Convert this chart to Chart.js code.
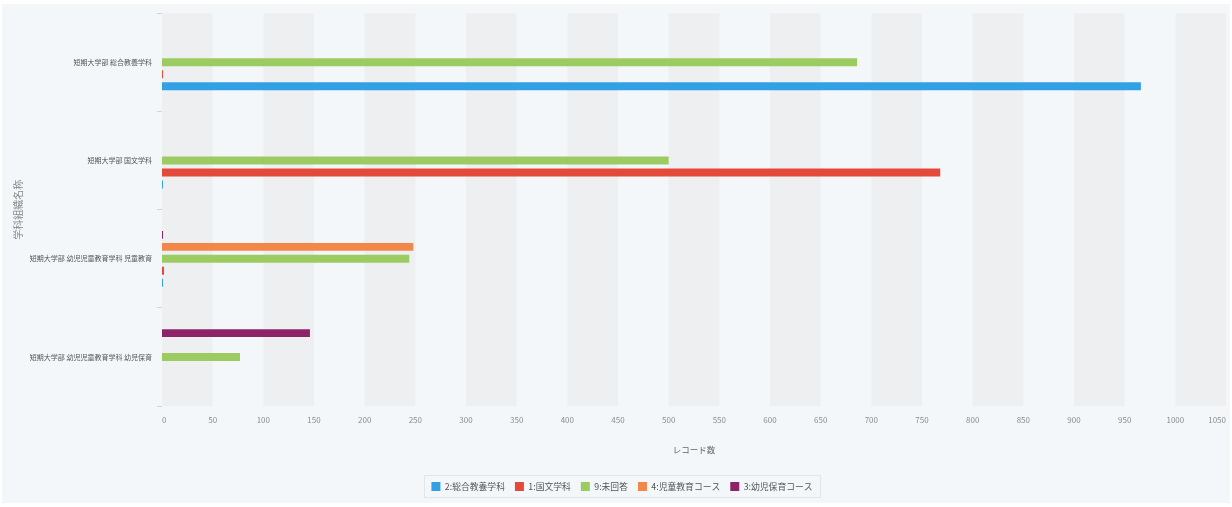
<!DOCTYPE html>
<html lang="ja">
<head>
<meta charset="utf-8">
<title>学科組織名称別 レコード数</title>
<script src="https://cdn.jsdelivr.net/npm/chart.js@4/dist/chart.umd.min.js"></script>
<style>
  html, body { margin: 0; padding: 0; background: #ffffff; }
  #wrap { position: relative; width: 1232px; height: 507px; background: #ffffff; overflow: hidden; }
  #panel { position: absolute; left: 2px; top: 4px; width: 1228px; height: 499px; background: #f4f7f9; }
  #panel canvas { display: block; }
</style>
</head>
<body>
<div id="wrap">
  <div id="panel"><canvas id="chart" width="1228" height="499"></canvas></div>
</div>
<script>
// Categories (学科組織名称)
const categories = [
  '短期大学部 総合教養学科',
  '短期大学部 国文学科',
  '短期大学部 幼児児童教育学科 児童教育',
  '短期大学部 幼児児童教育学科 幼児保育'
];

// Record counts per course code, one array per series
const seriesNames = ['3:幼児保育コース', '4:児童教育コース', '9:未回答', '1:国文学科', '2:総合教養学科'];
const course3 = [0, 0, 1, 146];
const course4 = [0, 0, 248, 0];
const course9 = [686, 500, 244, 77];
const course1 = [1, 768, 2, 0];
const course2 = [966, 1, 1, 0];

const seriesColors = ['#8e2468', '#f3874a', '#9ccb62', '#e5493a', '#33a0e6'];

// x axis range and tick step
const xMin = 0;
const xMax = 1050;
const xStep = 50;

const FONT = '"Noto Sans CJK JP", "Noto Sans", sans-serif';

const seriesValues = [course3, course4, course9, course1, course2];

// Alternating shaded columns between x ticks
const bandPlugin = {
  id: 'bands',
  beforeDatasetsDraw(chart) {
    const {ctx, chartArea, scales} = chart;
    const x = scales.x;
    const ticks = x.ticks;
    ctx.save();
    ctx.fillStyle = '#edeff1';
    for (let i = 0; i < ticks.length - 1; i += 2) {
      const a = x.getPixelForValue(ticks[i].value);
      const b = x.getPixelForValue(ticks[i + 1].value);
      ctx.fillRect(a, chartArea.top, b - a, chartArea.bottom - chartArea.top);
    }
    ctx.restore();
  }
};

// Nudge the legend row a little to the right of the canvas centre
const legendShiftPlugin = {
  id: 'legendShift',
  afterLayout(chart) {
    const lg = chart.legend;
    if (!lg) return;
    lg.left += 8;
    lg.right += 8;
  }
};

// Thin frame around the legend row
const legendFramePlugin = {
  id: 'legendFrame',
  afterDraw(chart) {
    const lg = chart.legend;
    if (!lg || !lg.legendHitBoxes || !lg.legendHitBoxes.length) return;
    const boxes = lg.legendHitBoxes;
    let l = Infinity, r = -Infinity, t = Infinity, b = -Infinity;
    boxes.forEach(h => {
      l = Math.min(l, h.left);
      r = Math.max(r, h.left + h.width);
      t = Math.min(t, h.top);
      b = Math.max(b, h.top + h.height);
    });
    const ctx = chart.ctx;
    ctx.save();
    ctx.strokeStyle = '#e2e6ea';
    ctx.lineWidth = 1;
    ctx.strokeRect(Math.round(l - 7) + 0.5, Math.round(t - 7) + 0.5, Math.round(r - l + 15), Math.round(b - t + 13));
    ctx.restore();
  }
};

new Chart(document.getElementById('chart'), {
  type: 'bar',
  data: {
    labels: categories,
    datasets: seriesNames.map((name, i) => ({
      label: name,
      data: seriesValues[i],
      backgroundColor: seriesColors[i],
      borderWidth: 0,
      categoryPercentage: 0.61,
      barPercentage: 0.66
    }))
  },
  options: {
    indexAxis: 'y',
    responsive: false,
    animation: false,
    devicePixelRatio: 1,
    layout: { padding: { left: 0, top: 8, right: 4, bottom: 2 } },
    plugins: {
      tooltip: { enabled: false },
      legend: {
        position: 'bottom',
        reverse: true,
        labels: {
          boxWidth: 9,
          boxHeight: 9,
          padding: 10,
          color: '#555',
          font: { family: FONT, size: 8.8 }
        }
      }
    },
    scales: {
      x: {
        type: 'linear',
        min: xMin,
        max: xMax,
        grid: { display: false, drawTicks: false },
        border: { display: false },
        ticks: {
          stepSize: xStep,
          padding: 9,
          align: 'inner',
          color: '#8a8d90',
          font: { family: FONT, size: 8 },
          maxRotation: 0,
          autoSkip: false,
          callback: (v) => String(v)
        },
        title: {
          display: true,
          text: 'レコード数',
          color: '#666',
          font: { family: FONT, size: 8.5 },
          padding: { top: 11, bottom: 17 }
        },
        afterFit(scale) {
          scale.paddingLeft = 0;
          scale.paddingRight = 0;
        }
      },
      y: {
        type: 'category',
        grid: {
          display: true,
          offset: true,
          drawOnChartArea: false,
          drawTicks: true,
          tickLength: 5,
          color: '#d2d6da'
        },
        border: { display: false },
        ticks: {
          padding: 5,
          color: '#555',
          font: { family: FONT, size: 7 }
        },
        title: {
          display: true,
          text: '学科組織名称',
          color: '#888',
          font: { family: FONT, size: 10 },
          padding: { top: 10, bottom: 0 }
        },
        afterFit(scale) { scale.width = 160; }
      }
    }
  },
  plugins: [bandPlugin, legendShiftPlugin, legendFramePlugin]
});
</script>
</body>
</html>
